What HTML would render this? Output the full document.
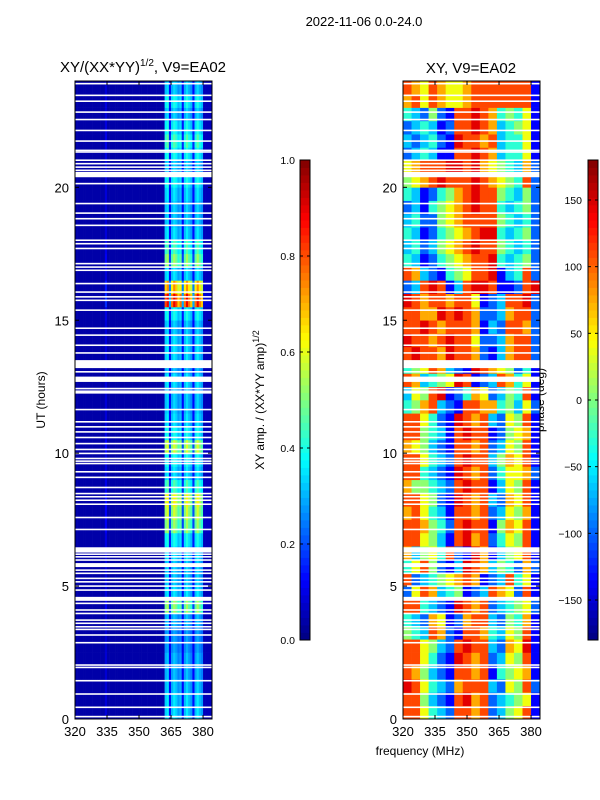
<!DOCTYPE html>
<html><head><meta charset="utf-8">
<style>
body{margin:0;background:#fff;}
svg{display:block;font-family:"Liberation Sans","DejaVu Sans",sans-serif;}
</style></head>
<body>
<svg id="fig" width="600" height="800" viewBox="0 0 600 800">
<text x="364" y="26" font-size="13" text-anchor="middle">2022-11-06 0.0-24.0</text>
<text x="143" y="72" font-size="15" text-anchor="middle">XY/(XX*YY)<tspan font-size="10" dy="-6">1/2</tspan><tspan dy="6">, V9=EA02</tspan></text>
<text x="471" y="73" font-size="15" text-anchor="middle">XY, V9=EA02</text>
<text x="420" y="755" font-size="12" text-anchor="middle">frequency (MHz)</text>
<text transform="translate(45,400) rotate(-90)" font-size="12" text-anchor="middle">UT (hours)</text>
<text transform="translate(264,400) rotate(-90)" font-size="12" text-anchor="middle">XY amp. / (XX*YY amp)<tspan font-size="9" dy="-5">1/2</tspan></text>
<text transform="translate(544,400) rotate(-90)" font-size="12" text-anchor="middle">phase (deg)</text>
<g id="layer"></g>
</svg>
<script>
// ---- data ----
const hoursPerRow = 0.5;
const freqStart = 320, freqEnd = 384.2;
const xTicks = [320, 335, 350, 365, 380];
const yTicks = [0, 5, 10, 15, 20];
const ampTicks = [0.0, 0.2, 0.4, 0.6, 0.8, 1.0];
const phaseTicks = [-150, -100, -50, 0, 50, 100, 150];
// left panel: per-row band intensity (0..1), per-MHz channel profile
const ampRowIntensity = [.32,.32,.3,.28,.28,.25,.25,.28,.5,.32,.3,.3,.32,.36,.5,.55,.6,.42,.32,.36,.55,.36,.32,.3,.3,.32,.28,.32,.32,.3,.36,.85,.7,.32,.5,.42,.32,.3,.3,.32,.36,.3,.36,.42,.36,.3,.36,.3];
const ampChanProfile = [0,0,0,0,0,0,0,0,0,0,0,0,0,0,.15,0,0,0,0,0,0,0,0,0,0,0,0,0,0,0,0,0,0,0,0,0,0,0,0,0,0,0,.9,1,.3,.85,1,.9,.75,.85,.3,.85,1,.85,.75,.3,.85,1,.85,.75,.05,.05,.05,.05];
// right panel: phase codes 0..9 -> -180..180 deg, 16 channels of 4 MHz
const phaseRows = ["8864328878235681","8853218978234561","9864327888326582","8753218878145671","8864219878236581","8865328988327691","5438721887436581","4327612788325471","8843219878234562","2687345123876281","8234567871238461","4685213987354272","7356482197135681","8865318978246581","8875428988157681","7864318878236571","8865219878327681","7554328988136581","8843219878246672","8864328988357681","7653218878236581","8854318988125671","8864219878326581","4578321887745362","3658912476235481","8734569812387461","4568732198765241","8988798872137882","9887898862237882","8898788871328872","8877989872237882","9878878861238892","2389813899811289","8732145688913482","4312456788943452","3423567898854342","4312456789943452","3422567888854342","2314567898843452","4312457898854352","5678988898765482","6788899897654372","2343118898734461","3234219887834461","2343128898734561","4325218898745461","7868766788888881","8768766788888881"];
// flagged (blank) times in hours, with widths
const flagHours = [23.90,23.46,23.24,22.83,22.55,22.14,21.74,21.39,21.33,21.02,20.89,20.76,20.64,20.48,20.14,19.39,19.03,18.82,18.57,18.01,17.88,17.70,17.13,17.00,16.88,16.38,16.06,15.88,15.75,15.38,14.70,14.44,14.06,13.77,13.35,13.06,12.78,12.43,12.30,11.64,11.18,10.99,10.80,10.59,10.36,10.14,9.99,9.80,9.70,9.61,9.30,9.09,8.71,8.48,8.36,8.23,8.08,7.58,7.13,6.36,6.20,6.10,5.98,5.79,5.60,5.48,5.29,5.16,5.00,4.85,4.52,4.35,4.10,3.97,3.72,3.60,3.47,3.37,3.16,2.87,2.03,1.94,1.44,0.94,0.44,0.09];
const flagWidths = [.06,.06,.06,.06,.06,.06,.06,.06,.06,.06,.06,.06,.06,.2,.06,.06,.06,.06,.06,.06,.06,.06,.06,.06,.06,.06,.06,.06,.06,.06,.06,.06,.06,.06,.3,.06,.2,.06,.12,.06,.06,.06,.06,.06,.06,.06,.06,.06,.06,.06,.06,.06,.06,.06,.06,.06,.06,.06,.06,.2,.06,.06,.06,.15,.06,.06,.06,.06,.06,.06,.15,.06,.06,.06,.06,.06,.06,.06,.06,.06,.06,.06,.06,.06,.06,.06];

// ---- layout ----
const NS = "http://www.w3.org/2000/svg";
const layer = document.getElementById("layer");
const panels = [{x0:75,x1:212,name:"amp-panel"},{x0:403,x1:540,name:"phase-panel"}];
const yTop = 81, yBot = 719;
function yScale(h){ return yBot - (h/24)*(yBot-yTop); }
function xScale(p,f){ return p.x0 + (f-freqStart)/(freqEnd-freqStart)*(p.x1-p.x0); }
function jet(v){
  v = Math.max(0, Math.min(1, v));
  const r = Math.max(0, Math.min(1, 1.5 - Math.abs(4*v-3)));
  const g = Math.max(0, Math.min(1, 1.5 - Math.abs(4*v-2)));
  const b = Math.max(0, Math.min(1, 1.5 - Math.abs(4*v-1)));
  return `rgb(${Math.round(r*255)},${Math.round(g*255)},${Math.round(b*255)})`;
}
function mk(tag, attrs, parent){
  const e = document.createElementNS(NS, tag);
  for (const k in attrs) e.setAttribute(k, attrs[k]);
  (parent||layer).appendChild(e);
  return e;
}

// left amp heatmap
const gA = mk("g", {});


ampRowIntensity.forEach((ri, r) => {
  const y0 = yScale((r+1)*hoursPerRow), y1 = yScale(r*hoursPerRow);
  ampChanProfile.forEach((cp, c) => {
    const f0 = freqStart + c, f1 = Math.min(freqEnd, freqStart + c + 1);
    const x0 = xScale(panels[0], f0), x1 = xScale(panels[0], f1);
    const cell = mk("rect", {x:x0, y:y0, width:x1-x0+0.3, height:y1-y0+0.3, fill:jet(0.04 + cp*ri)}, gA);
    
    
  });
});
// right phase heatmap
const gP = mk("g", {});


phaseRows.forEach((row, r) => {
  const y0 = yScale((r+1)*hoursPerRow), y1 = yScale(r*hoursPerRow);
  for (let c = 0; c < row.length; c++) {
    const f0 = freqStart + c*4, f1 = Math.min(freqEnd, f0 + 4);
    const x0 = xScale(panels[1], f0), x1 = xScale(panels[1], f1);
    const code = +row[c];
    const deg = -170 + code*35;
    const cell = mk("rect", {x:x0, y:y0, width:x1-x0+0.3, height:y1-y0+0.3, fill:jet((deg+180)/360)}, gP);
    
    
  }
});
// flagged rows
panels.forEach(p => {
  flagHours.forEach((h, i) => {
    const w = flagWidths[i];
    const ya = yScale(h + w/2), yb = yScale(h - w/2);
    const fl = mk("rect", {x:p.x0, y:ya, width:p.x1-p.x0, height:Math.max(1.5, yb-ya), fill:"#fff"});
    
    
  });
});
// axes
panels.forEach(p => {
  const fr = mk("rect", {x:p.x0, y:yTop, width:p.x1-p.x0, height:yBot-yTop, fill:"none", stroke:"#000", "stroke-width":1});
  
  
  xTicks.forEach(t => {
    const x = xScale(p, t);
    mk("line", {x1:x, x2:x, y1:yBot, y2:yBot-4, stroke:"#000"});
    mk("line", {x1:x, x2:x, y1:yTop, y2:yTop+4, stroke:"#000"});
    const lb = mk("text", {x:x, y:yBot+17, "font-size":13, "text-anchor":"middle"});
    lb.textContent = t;
    
    
  });
  yTicks.forEach(t => {
    const y = yScale(t);
    mk("line", {x1:p.x0, x2:p.x0+4, y1:y, y2:y, stroke:"#000"});
    mk("line", {x1:p.x1, x2:p.x1-4, y1:y, y2:y, stroke:"#000"});
    const lb = mk("text", {x:p.x0-6, y:y+5, "font-size":13, "text-anchor":"end"});
    lb.textContent = t;
    
    
  });
});
// colorbars
function colorbar(x, vmin, vmax, ticks, name, fmt){
  const yt = 160, yb = 640, n = 64;
  const g = mk("g", {});
  
  
  for (let i = 0; i < n; i++) {
    const ya = yb - (i+1)*(yb-yt)/n;
    mk("rect", {x:x, y:ya, width:10, height:(yb-yt)/n+0.4, fill:jet((i+0.5)/n)}, g);
  }
  mk("rect", {x:x, y:yt, width:10, height:yb-yt, fill:"none", stroke:"#000"}, g);
  ticks.forEach(t => {
    const y = yb - (t-vmin)/(vmax-vmin)*(yb-yt);
    mk("line", {x1:x, x2:x+3, y1:y, y2:y, stroke:"#000"}, g);
    mk("line", {x1:x+10, x2:x+7, y1:y, y2:y, stroke:"#000"}, g);
    const lb = mk("text", {x:x - 5, y:y+4, "font-size":10.5, "text-anchor":"end"}, g);
    if (fmt) { lb.textContent = t.toFixed(1); }
    else { lb.textContent = String(t).replace('-', '\u2212'); lb.setAttribute('x', x - 6); }
    
    
  });
}
colorbar(300, 0, 1, ampTicks, 'amp-colorbar', true);
colorbar(588, -180, 180, phaseTicks, 'phase-colorbar', false);
</script>
</body></html>
